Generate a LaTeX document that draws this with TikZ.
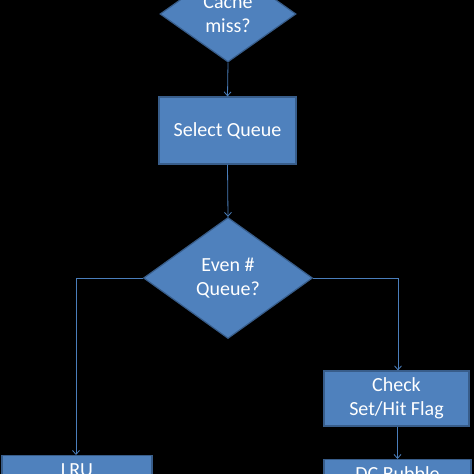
\documentclass[tikz,border=0pt]{standalone}
\usepackage{fontspec}
\setmainfont{Carlito}
\usetikzlibrary{shapes.geometric,arrows.meta}
\definecolor{boxfill}{HTML}{4F81BD}
\definecolor{boxline}{HTML}{385D8A}
\definecolor{conn}{HTML}{4A7EBB}
\tikzset{
  shp/.style={fill=boxfill, draw=boxline, line width=1.2pt, text=white,
    font=\fontsize{20}{24}\selectfont, align=center, inner sep=0pt},
  decision/.style={shp, diamond},
  procbox/.style={shp, rectangle},
  lbl/.style={text=white, font=\fontsize{20}{24}\selectfont, inner sep=0pt},
  conn/.style={draw=conn, line width=0.8pt},
  arr/.style={conn, -{Straight Barb[length=4pt,width=7pt]}}
}
\begin{document}
\begin{tikzpicture}[x=1pt,y=-1pt]
\useasboundingbox (0,0) rectangle (474,474);
\clip (0,0) rectangle (474,474);
\fill[black] (0,0) rectangle (474,474);

\node[decision, minimum width=136pt, minimum height=96pt] (cache) at (228,14) {Cache\\miss?};
\node[procbox, minimum width=137pt, minimum height=67pt] (select) at (227.5,130.5) {Select Queue};
\node[decision, minimum width=169pt, minimum height=121pt] (even) at (228,278) {Even \#\\Queue?};
\node[procbox, minimum width=145pt, minimum height=55pt] (check) at (396.5,398.5) {Check\\Set/Hit Flag};
\node[procbox, minimum width=150pt, minimum height=55pt, anchor=north] (lru) at (77,455) {};
\node[lbl, anchor=base] (lrut) at ([yshift=-21pt]lru.north) {LRU};
\node[procbox, minimum width=147pt, minimum height=55pt, anchor=north] (dc) at (397.5,459) {};
\node[lbl, anchor=base] (dct) at ([yshift=-21pt]dc.north) {DC Bubble};

\coordinate (lcorner) at (76,278);
\coordinate (rcorner) at (398,278);

\draw[arr] (cache.south) -- (select.north);
\draw[arr] (select.south) -- (even.north);
\draw[arr] (even.west) -- (lcorner) -- (lcorner |- lru.north);
\draw[arr] (even.east) -- (rcorner) -- (rcorner |- check.north);
\draw[arr] (check.south -| dc.north) -- (dc.north);
\end{tikzpicture}
\end{document}
